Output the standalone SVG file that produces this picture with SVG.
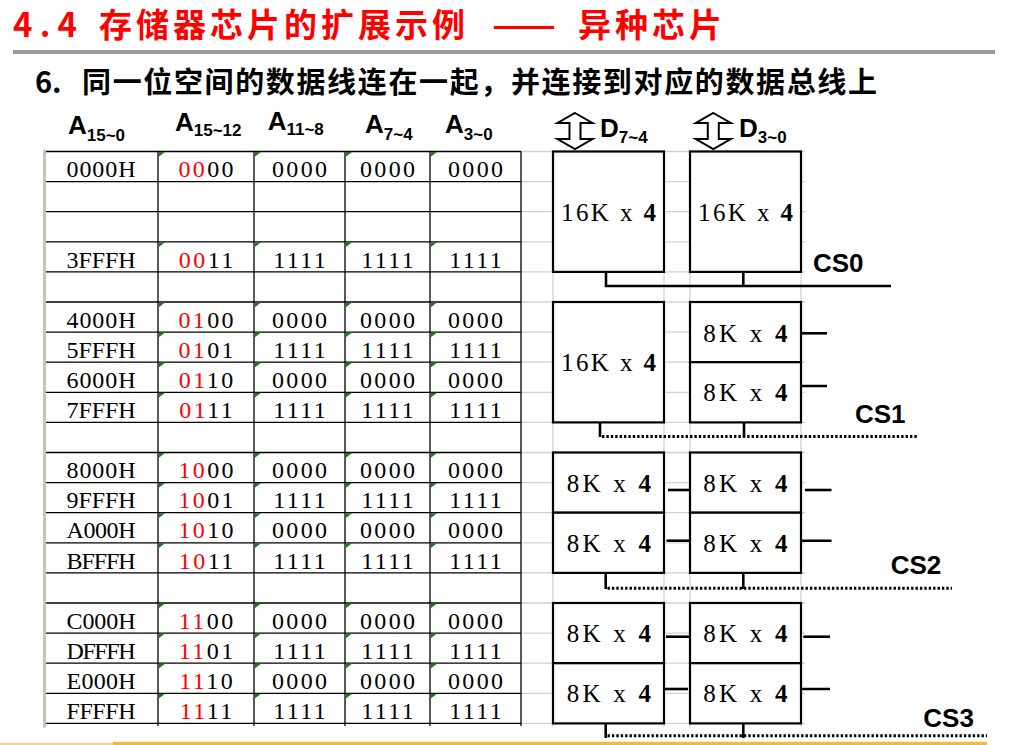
<svg xmlns="http://www.w3.org/2000/svg" xmlns:xlink="http://www.w3.org/1999/xlink" width="1015" height="745" viewBox="0 0 1015 745">
<style>
.title{font-family:"Noto Sans CJK SC","Liberation Sans",sans-serif;font-weight:bold;fill:#ff0000;font-size:33px}
.sub{font-family:"Noto Sans CJK SC","Liberation Sans",sans-serif;font-weight:bold;fill:#000;font-size:29px}
.h{font-family:"Liberation Sans",Arial,sans-serif;font-weight:bold;fill:#000}
.hA{font-size:26px}
.hs{font-size:17px}
.t{font-family:"Liberation Serif",serif;font-size:24px;text-anchor:middle;fill:#000}
.c{letter-spacing:2.4px}
.r{fill:#ff0000}
.chip{font-family:"Liberation Serif",serif;font-size:25px;text-anchor:middle;fill:#000}
.c16{letter-spacing:2.4px}
.c8{letter-spacing:3.2px}
.b{font-weight:bold}
.cs{font-family:"Liberation Sans",Arial,sans-serif;font-weight:bold;font-size:26px;fill:#000}
.box{fill:#fff;stroke:#000;stroke-width:2.2}
.tl{stroke:#000;stroke-width:1.3}
.gl{stroke:#d2d2d2;stroke-width:1.3}
.w{stroke:#000;stroke-width:2.6;fill:none}
.dot{stroke:#000;stroke-width:3;stroke-dasharray:2.4 2;fill:none}
.arr{fill:#fff;stroke:#000;stroke-width:2}
</style>
<defs>
<polygon id="tri" points="0.5,0.5 7,0.5 0.5,5.5" fill="#1a7a1a"/>
<path id="darr" d="M0,0 L17.5,10 L5.5,10 L5.5,26 L17.5,26 L0,36 L-17.5,26 L-5.5,26 L-5.5,10 L-17.5,10 Z"/>
</defs>
<rect width="1015" height="745" fill="#fff"/>

<g id="header">
<text class="title" y="37"><tspan x="13" textLength="64" lengthAdjust="spacing">4.4</tspan><tspan x="99" textLength="366" lengthAdjust="spacing">存储器芯片的扩展示例</tspan><tspan x="492" textLength="64" lengthAdjust="spacingAndGlyphs">——</tspan><tspan x="578" textLength="144" lengthAdjust="spacing">异种芯片</tspan></text>
<rect x="13" y="50" width="982" height="4" fill="#9a9a9a"/>
<text class="sub" y="93"><tspan x="35">6.</tspan><tspan x="82" textLength="795" lengthAdjust="spacing">同一位空间的数据线连在一起，并连接到对应的数据总线上</tspan></text>
</g>

<g id="col-headers">
<text class="h" x="68" y="134.3"><tspan class="hA">A</tspan><tspan class="hs" dy="6.7">15~0</tspan></text>
<text class="h" x="175" y="130.7"><tspan class="hA">A</tspan><tspan class="hs" dy="5">15~12</tspan></text>
<text class="h" x="267.7" y="130"><tspan class="hA">A</tspan><tspan class="hs" dy="5">11~8</tspan></text>
<text class="h" x="365" y="133.3"><tspan class="hA">A</tspan><tspan class="hs" dy="6.7">7~4</tspan></text>
<text class="h" x="445" y="133"><tspan class="hA">A</tspan><tspan class="hs" dy="7">3~0</tspan></text>
</g>

<g id="grid">
<rect x="43" y="149.5" width="3" height="578" fill="#c9c5b5"/>
<g class="gl">
<line x1="521" y1="151.5" x2="805" y2="151.5"/><line x1="521" y1="181.6" x2="805" y2="181.6"/><line x1="521" y1="211.7" x2="805" y2="211.7"/><line x1="521" y1="241.8" x2="805" y2="241.8"/><line x1="521" y1="271.9" x2="805" y2="271.9"/><line x1="521" y1="302" x2="805" y2="302"/><line x1="521" y1="332.1" x2="805" y2="332.1"/><line x1="521" y1="362.2" x2="805" y2="362.2"/><line x1="521" y1="392.3" x2="805" y2="392.3"/><line x1="521" y1="422.4" x2="805" y2="422.4"/><line x1="521" y1="452.5" x2="805" y2="452.5"/><line x1="521" y1="482.6" x2="805" y2="482.6"/><line x1="521" y1="512.7" x2="805" y2="512.7"/><line x1="521" y1="542.8" x2="805" y2="542.8"/><line x1="521" y1="572.9" x2="805" y2="572.9"/><line x1="521" y1="603" x2="805" y2="603"/><line x1="521" y1="633.1" x2="805" y2="633.1"/><line x1="521" y1="663.2" x2="805" y2="663.2"/><line x1="521" y1="693.3" x2="805" y2="693.3"/><line x1="521" y1="723.4" x2="805" y2="723.4"/>
<line x1="553" y1="151.5" x2="553" y2="727"/><line x1="664" y1="151.5" x2="664" y2="727"/><line x1="690" y1="151.5" x2="690" y2="727"/><line x1="801" y1="151.5" x2="801" y2="727"/>
</g>
<g class="tl">
<line x1="46" y1="151.5" x2="521" y2="151.5"/><line x1="46" y1="181.6" x2="521" y2="181.6"/><line x1="46" y1="211.7" x2="521" y2="211.7"/><line x1="46" y1="241.8" x2="521" y2="241.8"/><line x1="46" y1="271.9" x2="521" y2="271.9"/><line x1="46" y1="302" x2="521" y2="302"/><line x1="46" y1="332.1" x2="521" y2="332.1"/><line x1="46" y1="362.2" x2="521" y2="362.2"/><line x1="46" y1="392.3" x2="521" y2="392.3"/><line x1="46" y1="422.4" x2="521" y2="422.4"/><line x1="46" y1="452.5" x2="521" y2="452.5"/><line x1="46" y1="482.6" x2="521" y2="482.6"/><line x1="46" y1="512.7" x2="521" y2="512.7"/><line x1="46" y1="542.8" x2="521" y2="542.8"/><line x1="46" y1="572.9" x2="521" y2="572.9"/><line x1="46" y1="603" x2="521" y2="603"/><line x1="46" y1="633.1" x2="521" y2="633.1"/><line x1="46" y1="663.2" x2="521" y2="663.2"/><line x1="46" y1="693.3" x2="521" y2="693.3"/><line x1="46" y1="723.4" x2="521" y2="723.4"/>
<line x1="158" y1="151.5" x2="158" y2="726"/><line x1="254" y1="151.5" x2="254" y2="726"/><line x1="345" y1="151.5" x2="345" y2="726"/><line x1="430" y1="151.5" x2="430" y2="726"/><line x1="521" y1="151.5" x2="521" y2="726"/>
</g>
</g>

<g id="markers">
<use xlink:href="#tri" x="158" y="151.5"/><use xlink:href="#tri" x="254" y="151.5"/><use xlink:href="#tri" x="345" y="151.5"/><use xlink:href="#tri" x="430" y="151.5"/>
<use xlink:href="#tri" x="158" y="241.8"/><use xlink:href="#tri" x="254" y="241.8"/><use xlink:href="#tri" x="345" y="241.8"/><use xlink:href="#tri" x="430" y="241.8"/>
<use xlink:href="#tri" x="158" y="302"/><use xlink:href="#tri" x="254" y="302"/><use xlink:href="#tri" x="345" y="302"/><use xlink:href="#tri" x="430" y="302"/>
<use xlink:href="#tri" x="158" y="332.1"/><use xlink:href="#tri" x="254" y="332.1"/><use xlink:href="#tri" x="345" y="332.1"/><use xlink:href="#tri" x="430" y="332.1"/>
<use xlink:href="#tri" x="158" y="362.2"/><use xlink:href="#tri" x="254" y="362.2"/><use xlink:href="#tri" x="345" y="362.2"/><use xlink:href="#tri" x="430" y="362.2"/>
<use xlink:href="#tri" x="158" y="392.3"/><use xlink:href="#tri" x="254" y="392.3"/><use xlink:href="#tri" x="345" y="392.3"/><use xlink:href="#tri" x="430" y="392.3"/>
<use xlink:href="#tri" x="158" y="452.5"/><use xlink:href="#tri" x="254" y="452.5"/><use xlink:href="#tri" x="345" y="452.5"/><use xlink:href="#tri" x="430" y="452.5"/>
<use xlink:href="#tri" x="158" y="482.6"/><use xlink:href="#tri" x="254" y="482.6"/><use xlink:href="#tri" x="345" y="482.6"/><use xlink:href="#tri" x="430" y="482.6"/>
<use xlink:href="#tri" x="158" y="512.7"/><use xlink:href="#tri" x="254" y="512.7"/><use xlink:href="#tri" x="345" y="512.7"/><use xlink:href="#tri" x="430" y="512.7"/>
<use xlink:href="#tri" x="158" y="542.8"/><use xlink:href="#tri" x="254" y="542.8"/><use xlink:href="#tri" x="345" y="542.8"/><use xlink:href="#tri" x="430" y="542.8"/>
<use xlink:href="#tri" x="158" y="603"/><use xlink:href="#tri" x="254" y="603"/><use xlink:href="#tri" x="345" y="603"/><use xlink:href="#tri" x="430" y="603"/>
<use xlink:href="#tri" x="158" y="633.1"/><use xlink:href="#tri" x="254" y="633.1"/><use xlink:href="#tri" x="345" y="633.1"/><use xlink:href="#tri" x="430" y="633.1"/>
<use xlink:href="#tri" x="158" y="663.2"/><use xlink:href="#tri" x="254" y="663.2"/><use xlink:href="#tri" x="345" y="663.2"/><use xlink:href="#tri" x="430" y="663.2"/>
<use xlink:href="#tri" x="158" y="693.3"/><use xlink:href="#tri" x="254" y="693.3"/><use xlink:href="#tri" x="345" y="693.3"/><use xlink:href="#tri" x="430" y="693.3"/>
</g>

<g id="table-text">
<g class="t">
<text x="101" y="177.2" textLength="69" lengthAdjust="spacing">0000H</text>
<text x="101" y="267.5" textLength="69" lengthAdjust="spacing">3FFFH</text>
<text x="101" y="327.7" textLength="69" lengthAdjust="spacing">4000H</text>
<text x="101" y="357.8" textLength="69" lengthAdjust="spacing">5FFFH</text>
<text x="101" y="387.9" textLength="69" lengthAdjust="spacing">6000H</text>
<text x="101" y="418" textLength="69" lengthAdjust="spacing">7FFFH</text>
<text x="101" y="478.2" textLength="69" lengthAdjust="spacing">8000H</text>
<text x="101" y="508.3" textLength="69" lengthAdjust="spacing">9FFFH</text>
<text x="101" y="538.4" textLength="69" lengthAdjust="spacing">A000H</text>
<text x="101" y="568.5" textLength="69" lengthAdjust="spacing">BFFFH</text>
<text x="101" y="628.7" textLength="69" lengthAdjust="spacing">C000H</text>
<text x="101" y="658.8" textLength="69" lengthAdjust="spacing">DFFFH</text>
<text x="101" y="688.9" textLength="69" lengthAdjust="spacing">E000H</text>
<text x="101" y="719" textLength="69" lengthAdjust="spacing">FFFFH</text>
</g>
<g class="t c">
<text x="207.2" y="177.2"><tspan class="r">00</tspan>00</text>
<text x="207.2" y="267.5"><tspan class="r">00</tspan>11</text>
<text x="207.2" y="327.7"><tspan class="r">01</tspan>00</text>
<text x="207.2" y="357.8"><tspan class="r">01</tspan>01</text>
<text x="207.2" y="387.9"><tspan class="r">01</tspan>10</text>
<text x="207.2" y="418"><tspan class="r">01</tspan>11</text>
<text x="207.2" y="478.2"><tspan class="r">10</tspan>00</text>
<text x="207.2" y="508.3"><tspan class="r">10</tspan>01</text>
<text x="207.2" y="538.4"><tspan class="r">10</tspan>10</text>
<text x="207.2" y="568.5"><tspan class="r">10</tspan>11</text>
<text x="207.2" y="628.7"><tspan class="r">11</tspan>00</text>
<text x="207.2" y="658.8"><tspan class="r">11</tspan>01</text>
<text x="207.2" y="688.9"><tspan class="r">11</tspan>10</text>
<text x="207.2" y="719"><tspan class="r">11</tspan>11</text>
<text x="300.7" y="177.2">0000</text><text x="388.7" y="177.2">0000</text><text x="476.7" y="177.2">0000</text>
<text x="300.7" y="267.5">1111</text><text x="388.7" y="267.5">1111</text><text x="476.7" y="267.5">1111</text>
<text x="300.7" y="327.7">0000</text><text x="388.7" y="327.7">0000</text><text x="476.7" y="327.7">0000</text>
<text x="300.7" y="357.8">1111</text><text x="388.7" y="357.8">1111</text><text x="476.7" y="357.8">1111</text>
<text x="300.7" y="387.9">0000</text><text x="388.7" y="387.9">0000</text><text x="476.7" y="387.9">0000</text>
<text x="300.7" y="418">1111</text><text x="388.7" y="418">1111</text><text x="476.7" y="418">1111</text>
<text x="300.7" y="478.2">0000</text><text x="388.7" y="478.2">0000</text><text x="476.7" y="478.2">0000</text>
<text x="300.7" y="508.3">1111</text><text x="388.7" y="508.3">1111</text><text x="476.7" y="508.3">1111</text>
<text x="300.7" y="538.4">0000</text><text x="388.7" y="538.4">0000</text><text x="476.7" y="538.4">0000</text>
<text x="300.7" y="568.5">1111</text><text x="388.7" y="568.5">1111</text><text x="476.7" y="568.5">1111</text>
<text x="300.7" y="628.7">0000</text><text x="388.7" y="628.7">0000</text><text x="476.7" y="628.7">0000</text>
<text x="300.7" y="658.8">1111</text><text x="388.7" y="658.8">1111</text><text x="476.7" y="658.8">1111</text>
<text x="300.7" y="688.9">0000</text><text x="388.7" y="688.9">0000</text><text x="476.7" y="688.9">0000</text>
<text x="300.7" y="719">1111</text><text x="388.7" y="719">1111</text><text x="476.7" y="719">1111</text>
</g>
</g>

<g id="data-bus">
<use xlink:href="#darr" class="arr" x="575" y="113"/>
<text class="h" x="600" y="136.7"><tspan class="hA">D</tspan><tspan class="hs" dy="6.6">7~4</tspan></text>
<use xlink:href="#darr" class="arr" x="713.3" y="113"/>
<text class="h" x="739" y="136.7"><tspan class="hA">D</tspan><tspan class="hs" dy="6.6">3~0</tspan></text>
</g>

<g id="connectors">
<polyline class="w" points="606,272 606,286 891,286"/>
<line class="w" x1="743.3" y1="272" x2="743.3" y2="286"/>
<line class="w" x1="600" y1="422.4" x2="600" y2="437"/>
<line class="w" x1="744" y1="422.4" x2="744" y2="437"/>
<line class="dot" x1="602" y1="436.5" x2="918" y2="436.5"/>
<line class="w" x1="801" y1="333.3" x2="827" y2="333.3"/>
<line class="w" x1="792" y1="386" x2="827" y2="386"/>
<line class="w" x1="668" y1="490" x2="693" y2="490"/>
<line class="w" x1="666.5" y1="540.7" x2="691.5" y2="540.7"/>
<line class="w" x1="805" y1="490" x2="831.5" y2="490"/>
<line class="w" x1="798" y1="540.7" x2="831.5" y2="540.7"/>
<line class="w" x1="605.7" y1="572.9" x2="605.7" y2="589"/>
<line class="w" x1="743.3" y1="572.9" x2="743.3" y2="589"/>
<line class="dot" x1="607.5" y1="588.3" x2="952" y2="588.3"/>
<line class="w" x1="666" y1="636.7" x2="691.5" y2="636.7"/>
<line class="w" x1="664" y1="689" x2="688" y2="689"/>
<line class="w" x1="803.3" y1="636.7" x2="830" y2="636.7"/>
<line class="w" x1="796" y1="689" x2="830" y2="689"/>
<line class="w" x1="605.7" y1="723.4" x2="605.7" y2="738"/>
<line class="w" x1="743.3" y1="723.4" x2="743.3" y2="738"/>
<line class="dot" x1="607.5" y1="735.7" x2="987" y2="735.7"/>
</g>

<g id="cs0">
<rect class="box" x="553" y="151.5" width="111" height="120.4"/>
<text class="chip c16" x="609.7" y="221">16K x <tspan class="b">4</tspan></text>
<rect class="box" x="690" y="151.5" width="111" height="120.4"/>
<text class="chip c16" x="746.7" y="221">16K x <tspan class="b">4</tspan></text>
<text class="cs" x="813" y="271.7">CS0</text>
</g>

<g id="cs1">
<rect class="box" x="553" y="302" width="111" height="120.4"/>
<text class="chip c16" x="609.7" y="371">16K x <tspan class="b">4</tspan></text>
<rect class="box" x="690" y="302" width="111" height="60.2"/>
<text class="chip c8" x="747" y="341.5">8K x <tspan class="b">4</tspan></text>
<rect class="box" x="690" y="362.2" width="111" height="60.2"/>
<text class="chip c8" x="747" y="401">8K x <tspan class="b">4</tspan></text>
<text class="cs" x="855" y="423.3">CS1</text>
</g>

<g id="cs2">
<rect class="box" x="553" y="452.5" width="111" height="60.2"/>
<text class="chip c8" x="610.5" y="491.8">8K x <tspan class="b">4</tspan></text>
<rect class="box" x="553" y="512.7" width="111" height="60.2"/>
<text class="chip c8" x="610.5" y="551.8">8K x <tspan class="b">4</tspan></text>
<rect class="box" x="690" y="452.5" width="111" height="60.2"/>
<text class="chip c8" x="747" y="491.8">8K x <tspan class="b">4</tspan></text>
<rect class="box" x="690" y="512.7" width="111" height="60.2"/>
<text class="chip c8" x="747" y="551.8">8K x <tspan class="b">4</tspan></text>
<text class="cs" x="890.7" y="574">CS2</text>
</g>

<g id="cs3">
<rect class="box" x="553" y="603" width="111" height="60.2"/>
<text class="chip c8" x="610.5" y="642.2">8K x <tspan class="b">4</tspan></text>
<rect class="box" x="553" y="663.2" width="111" height="60.2"/>
<text class="chip c8" x="610.5" y="702.4">8K x <tspan class="b">4</tspan></text>
<rect class="box" x="690" y="603" width="111" height="60.2"/>
<text class="chip c8" x="747" y="642.2">8K x <tspan class="b">4</tspan></text>
<rect class="box" x="690" y="663.2" width="111" height="60.2"/>
<text class="chip c8" x="747" y="702.4">8K x <tspan class="b">4</tspan></text>
<text class="cs" x="923.3" y="726.7">CS3</text>
</g>

<g id="footer">
<rect x="0" y="742.8" width="113" height="2.2" fill="#fbd48a"/>
<rect x="113" y="741.8" width="874" height="3.2" fill="#f5b942"/>
</g>
</svg>
